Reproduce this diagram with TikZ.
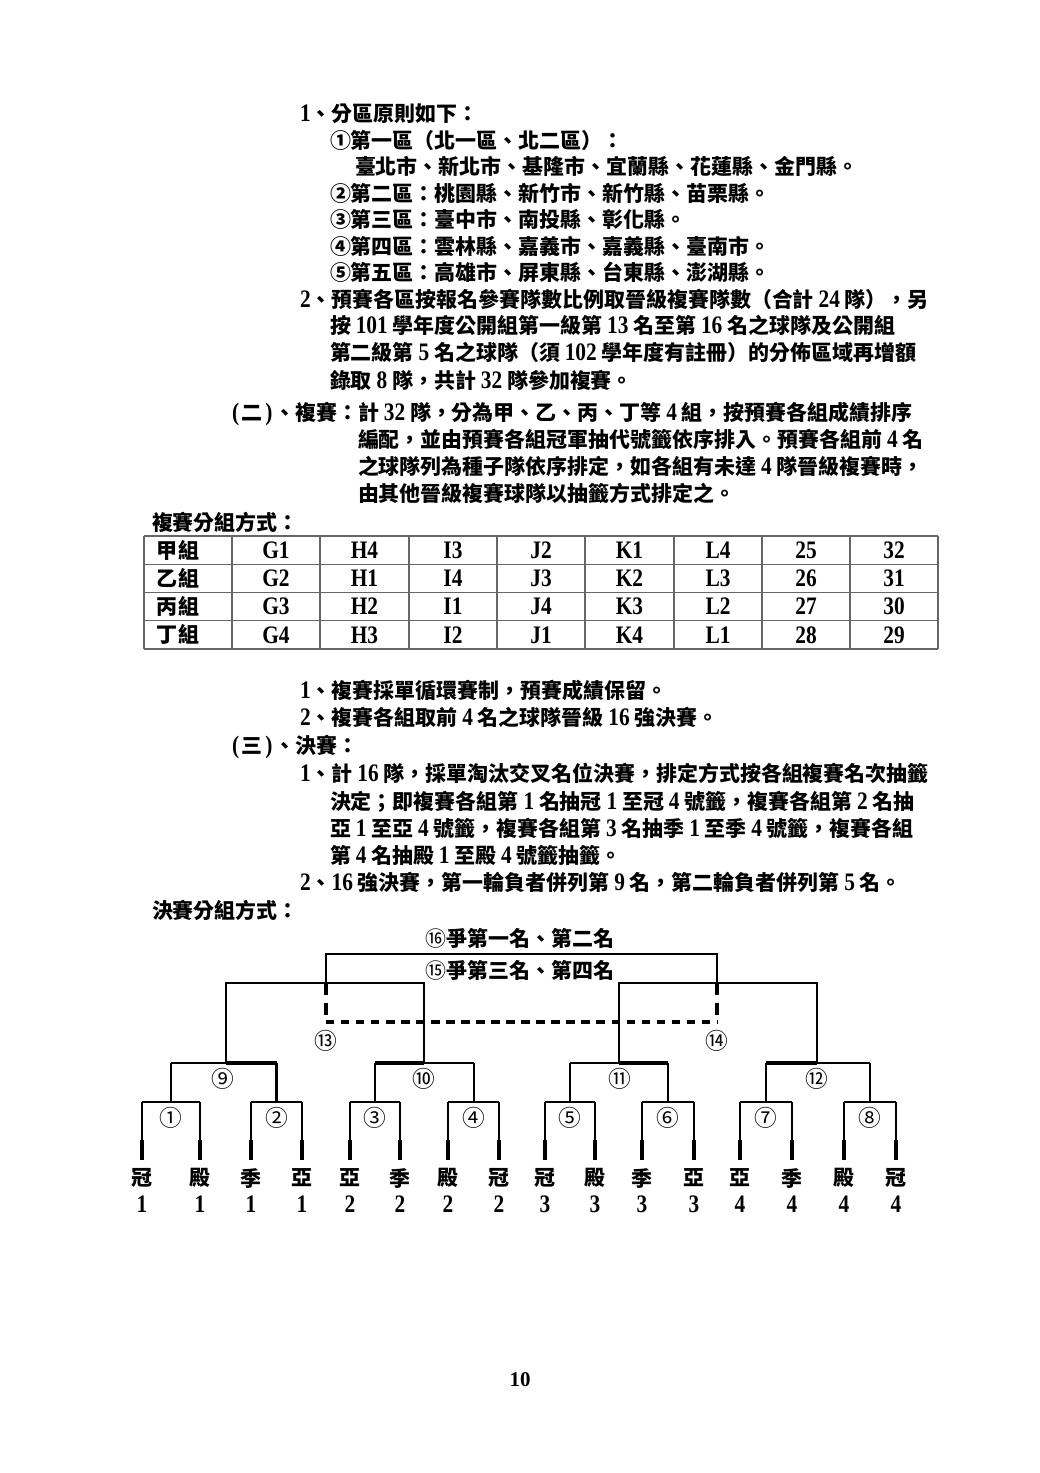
\documentclass[tikz,border=0pt]{standalone}
\usepackage{fontspec}
\setmainfont{Noto Sans CJK TC}
\newfontfamily\latf{Liberation Serif}[Scale=1.2,FakeStretch=0.85]
\newfontfamily\pgf{Liberation Serif}
\newcommand\N[1]{{\latf\bfseries #1}}
\begin{document}
\begin{tikzpicture}[x=0.5723pt,y=-0.5723pt,
  every node/.style={inner sep=0pt,outer sep=0pt},
  txt/.style={anchor=base west,font=\fontsize{12}{14}\selectfont\bfseries},
  cell/.style={anchor=center,font=\fontsize{12}{14}\selectfont\bfseries},
  grid/.style={draw=black!60,line width=0.8pt},
  thin/.style={line width=1.15pt},
  thick/.style={line width=2.1pt},
  dashh/.style={line width=1.8pt,dash pattern=on 4.8pt off 3.8pt},
  dashv/.style={line width=2.1pt,dash pattern=on 6.8pt off 4.6pt},
  lab/.style={anchor=center,font=\fontsize{12}{14}\selectfont\bfseries},
  circ/.style={anchor=center,font=\fontsize{13}{15}\selectfont}]
\useasboundingbox[fill=white] (0,0) rectangle (1040,1473);

% ---------- text block 1 ----------
\node[txt] (t1) at (300,122) {\N{1}、分區原則如下：};
\node[txt] (t2) at (330,149) {①第一區（北一區、北二區）：};
\node[txt] (t3) at (355,175) {臺北市、新北市、基隆市、宜蘭縣、花蓮縣、金門縣。};
\node[txt] (t4) at (330,202) {②第二區：桃園縣、新竹市、新竹縣、苗栗縣。};
\node[txt] (t5) at (330,228) {③第三區：臺中市、南投縣、彰化縣。};
\node[txt] (t6) at (330,255) {④第四區：雲林縣、嘉義市、嘉義縣、臺南市。};
\node[txt] (t7) at (330,281) {⑤第五區：高雄市、屏東縣、台東縣、澎湖縣。};
\node[txt] (t8) at (300,307) {\N{2}、預賽各區按報名參賽隊數比例取晉級複賽隊數（合計 \N{24} 隊），另};
\node[txt] (t9) at (330,334) {按 \N{101} 學年度公開組第一級第 \N{13} 名至第 \N{16} 名之球隊及公開組};
\node[txt] (t10) at (330,360) {第二級第 \N{5} 名之球隊（須 \N{102} 學年度有註冊）的分佈區域再增額};
\node[txt] (t11) at (330,388) {錄取 \N{8} 隊，共計 \N{32} 隊參加複賽。};
\node[txt] (t12) at (232,420) {\N{(}\kern1.5pt二\kern1.5pt\N{)}\kern1pt、複賽：計 \N{32} 隊，分為甲、乙、丙、丁等 \N{4} 組，按預賽各組成績排序};
\node[txt] (t13) at (358,447) {編配，並由預賽各組冠軍抽代號籤依序排入。預賽各組前 \N{4} 名};
\node[txt] (t14) at (358,474) {之球隊列為種子隊依序排定，如各組有未達 \N{4} 隊晉級複賽時，};
\node[txt] (t15) at (358,501) {由其他晉級複賽球隊以抽籤方式排定之。};
\node[txt] (t16) at (152,530) {複賽分組方式：};

% ---------- table ----------
\foreach \x in {144,232,320,409,497,585,674,762,850,938}
  \draw[grid] (\x,536) -- (\x,649);
\foreach \y in {536,564.25,592.5,620.75,649}
  \draw[grid] (144,\y) -- (938,\y);
\foreach \r/\g/\a/\b/\c/\d/\e/\f/\p/\q [count=\i] in
  {甲/G1/H4/I3/J2/K1/L4/25/32,
   乙/G2/H1/I4/J3/K2/L3/26/31,
   丙/G3/H2/I1/J4/K3/L2/27/30,
   丁/G4/H3/I2/J1/K4/L1/28/29}{%
  \pgfmathsetmacro\yy{536+28.25*(\i-0.5)}
  \node[cell,anchor=west] (r\i) at (156,\yy) {\r\hspace{1pt}組};
  \node[cell] (c\i a) at (276,\yy) {\N{\g}};
  \node[cell] (c\i b) at (364.5,\yy) {\N{\a}};
  \node[cell] (c\i c) at (453,\yy) {\N{\b}};
  \node[cell] (c\i d) at (541,\yy) {\N{\c}};
  \node[cell] (c\i e) at (629.5,\yy) {\N{\d}};
  \node[cell] (c\i f) at (718,\yy) {\N{\e}};
  \node[cell] (c\i g) at (806,\yy) {\N{\f}};
  \node[cell] (c\i h) at (894,\yy) {\N{\p}};
}

% ---------- text block 2 ----------
\node[txt] (u1) at (300,698) {\N{1}、複賽採單循環賽制，預賽成績保留。};
\node[txt] (u2) at (300,725) {\N{2}、複賽各組取前 \N{4} 名之球隊晉級 \N{16} 強決賽。};
\node[txt] (u3) at (232,753) {\N{(}\kern1.5pt三\kern1.5pt\N{)}\kern1pt、決賽：};
\node[txt] (u4) at (300,781) {\N{1}、計 \N{16} 隊，採單淘汰交叉名位決賽，排定方式按各組複賽名次抽籤};
\node[txt] (u5) at (330,809) {決定；即複賽各組第 \N{1} 名抽冠 \N{1} 至冠 \N{4} 號籤，複賽各組第 \N{2} 名抽};
\node[txt] (u6) at (330,836) {亞 \N{1} 至亞 \N{4} 號籤，複賽各組第 \N{3} 名抽季 \N{1} 至季 \N{4} 號籤，複賽各組};
\node[txt] (u7) at (330,863) {第 \N{4} 名抽殿 \N{1} 至殿 \N{4} 號籤抽籤。};
\node[txt] (u8) at (300,890) {\N{2}、\N{16} 強決賽，第一輪負者併列第 \N{9} 名，第二輪負者併列第 \N{5} 名。};
\node[txt] (u9) at (152,918) {決賽分組方式：};

% ---------- bracket ----------
% leaves
\foreach \x/\t/\n [count=\i] in {142/冠/1,200/殿/1,251/季/1,302/亞/1,
                                  350/亞/2,400/季/2,448/殿/2,499/冠/2,
                                  545/冠/3,595/殿/3,642/季/3,694/亞/3,
                                  740/亞/4,792/季/4,844/殿/4,896/冠/4}{%
  \coordinate (top\i) at (\x,1102);
  \coordinate (mid\i) at (\x,1140);
  \coordinate (bot\i) at (\x,1160);
  \draw[thin] (top\i) -- (mid\i);
  \draw[thick] (mid\i) -- (bot\i);
  \node[lab] (lab\i) at (\x,1178) {\t};
  \node[lab] (num\i) at (\x,1204) {\N{\n}};
}
% first round
\foreach \a/\b/\m/\c [count=\k] in {1/2/171/①,3/4/276.5/②,5/6/375/③,7/8/473.5/④,
                                 9/10/570/⑤,11/12/668/⑥,13/14/766/⑦,15/16/870/⑧}{%
  \draw[thin] (top\a) -- (top\b);
  \coordinate (ra\k) at (\m,1102);
  \coordinate (rb\k) at (\m,1063);
  \draw[thin] (ra\k) -- (rb\k);
  \node[circ] (c\k) at (\m,1118) {\c};
}
% second round
\coordinate (j1) at (226,1063);
\coordinate (j2) at (424,1063);
\coordinate (j3) at (619,1063);
\coordinate (j4) at (817,1063);
\draw[thin] (rb1) -- (rb2);
\draw[thick] (j1) -- (rb2);
\draw[thin] (rb3) -- (rb4);
\draw[thick] (rb3) -- (j2);
\draw[thin] (rb5) -- (rb6);
\draw[thick] (j3) -- (rb6);
\draw[thin] (rb7) -- (rb8);
\draw[thick] (rb7) -- (j4);
\node[circ] (c9) at (223,1079) {⑨};
\node[circ] (c10) at (424,1079) {⑩};
\node[circ] (c11) at (620,1079) {⑪};
\node[circ] (c12) at (817,1079) {⑫};
% semifinals
\coordinate (s1) at (226,983);
\coordinate (s2) at (424,983);
\coordinate (s3) at (619,983);
\coordinate (s4) at (817,983);
\draw[thin] (j1) -- (s1) -- (s2) -- (j2);
\draw[thin] (j3) -- (s3) -- (s4) -- (j4);
% final
\coordinate (fa) at (326,983);
\coordinate (fb) at (717,983);
\coordinate (fA) at (326,954);
\coordinate (fB) at (717,954);
\draw[thin] (fa) -- (fA) -- (fB) -- (fb);
% third place (dashed)
\coordinate (da) at (326,1022);
\coordinate (db) at (717,1022);
\draw[dashv] (fa) -- (da);
\draw[dashv] (fb) -- (db);
\draw[dashh] (da) -- (db);
\node[circ] (c13) at (326,1041) {⑬};
\node[circ] (c14) at (717,1041) {⑭};
\node[lab] (c16) at (520,938) {{\mdseries ⑯}爭第一名、第二名};
\node[lab] (c15) at (520,970) {{\mdseries ⑮}爭第三名、第四名};

% page number
\node[anchor=center,font=\fontsize{12}{14}\selectfont\pgf\bfseries] (pg) at (520,1380) {10};
\end{tikzpicture}
\end{document}
